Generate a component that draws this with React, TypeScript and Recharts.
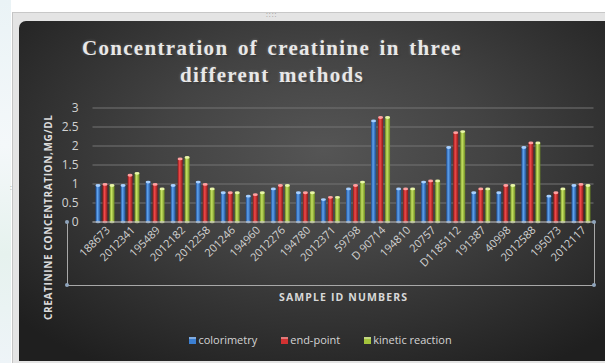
import React from 'react';
import { BarChart, Bar, XAxis, YAxis, CartesianGrid, Legend } from 'recharts';

// sample ids on the x axis
const sampleIds = [
  '188673', '2012341', '195489', '2012182', '2012258', '201246', '194960', '2012276', '194780', '2012371',
  '59798', 'D 90714', '194810', '20757', 'D1185112', '191387', '40998', '2012588', '195073', '2012117',
];

// creatinine concentration (mg/dl) for each method
const colorimetry = [0.96, 0.96, 1.05, 0.96, 1.05, 0.77, 0.68, 0.87, 0.77, 0.59, 0.87, 2.66, 0.87, 1.05, 1.96, 0.77, 0.77, 1.96, 0.68, 0.96];
const endPoint = [0.99, 1.23, 0.99, 1.66, 0.99, 0.77, 0.72, 0.96, 0.77, 0.65, 0.96, 2.75, 0.87, 1.08, 2.35, 0.87, 0.96, 2.08, 0.77, 0.99];
const kineticReaction = [0.96, 1.28, 0.87, 1.7, 0.87, 0.77, 0.77, 0.96, 0.77, 0.65, 1.05, 2.75, 0.87, 1.08, 2.38, 0.87, 0.96, 2.08, 0.87, 0.96];

const yTicks = [0, 0.5, 1, 1.5, 2, 2.5, 3];

const seriesStyles = [
  { key: 'colorimetry', dark: '#1d4a8e', light: '#5ea2ee', top: '#a8d0ff', icon: '#3b7fd2' },
  { key: 'end-point', dark: '#8c1818', light: '#f04a4a', top: '#ffa0a0', icon: '#d23232' },
  { key: 'kinetic reaction', dark: '#6c8a20', light: '#c6e262', top: '#e8f6a8', icon: '#a4c43c' },
];

const sans = '"Open Sans", "Liberation Sans", sans-serif';

const data = sampleIds.map((id, i) => ({
  name: id,
  colorimetry: colorimetry[i],
  'end-point': endPoint[i],
  'kinetic reaction': kineticReaction[i],
}));

const CylinderBar = (props: any) => {
  const { x, y, width, height, index, gradId, topColor } = props;
  if (!height || height <= 0) return null;
  return (
    <g key={index}>
      <rect x={x} y={y} width={width} height={height} fill={`url(#${gradId})`} />
      <ellipse cx={x + width / 2} cy={y} rx={width / 2} ry={1.4} fill={topColor} />
      <ellipse cx={x + width / 2} cy={y + height} rx={width / 2} ry={1.2} fill={topColor} opacity={0.8} />
    </g>
  );
};

const XTick = (props: any) => {
  const { x, y, payload } = props;
  return (
    <g transform={`translate(${x},${y})`}>
      <text x={0} y={0} dy={6} dx={2} textAnchor="end" transform="rotate(-45)" fill="#d2d2d2" fontSize={11} fontFamily={sans}>
        {payload.value}
      </text>
    </g>
  );
};

const LegendContent = (props: any) => {
  const { payload } = props;
  return (
    <div style={{ display: 'flex', justifyContent: 'center', height: 20, lineHeight: '20px', fontFamily: sans, fontSize: 11, color: '#d4d4d4' }}>
      {(payload || []).map((entry: any, i: number) => (
        <span key={i} style={{ display: 'inline-flex', alignItems: 'center', marginRight: i < 2 ? 24 : 0 }}>
          <span style={{ display: 'inline-block', width: 7, height: 7, marginRight: 2, background: seriesStyles[i].icon, boxShadow: 'inset 0 2px 0 rgba(255,255,255,0.35)' }} />
          {entry.value}
        </span>
      ))}
    </div>
  );
};

export default function App() {
  return (
    <div style={{ position: 'absolute', left: 0, top: 0, width: 605, height: 363, background: '#ffffff', overflow: 'hidden' }}>
      <div style={{ position: 'absolute', left: 0, top: 0, width: 11, height: 363, background: 'linear-gradient(#eaf3f6, #f4f8fa 40%, #e6f2ee 70%, #eef4f8)' }} />
      <div style={{ position: 'absolute', left: 12, top: 12, width: 593, height: 351, background: '#e4e4e4', borderLeft: '1px solid #c4c4c4', borderTop: '1px solid #c8c8c8' }}>
        <div style={{ position: 'absolute', left: 253, top: -3, fontSize: 7, color: '#999', fontFamily: sans, letterSpacing: 1 }}>::::</div>
        <div style={{ position: 'absolute', left: -3, top: 170, fontSize: 7, color: '#999', fontFamily: sans }}>:</div>
      </div>
      <div
        style={{
          position: 'absolute',
          left: 19,
          top: 21,
          width: 586,
          height: 340,
          borderTopLeftRadius: 7,
          overflow: 'hidden',
          background: 'radial-gradient(ellipse 70% 75% at 52% 38%, #555555 0%, #434343 40%, #2e2e2e 75%, #1f1f1f 100%)',
        }}
      >
        <div
          style={{
            position: 'absolute',
            left: 0,
            top: 14,
            width: 506,
            textAlign: 'center',
            fontFamily: '"Liberation Serif", "Times New Roman", serif',
            fontWeight: 'bold',
            fontSize: 21,
            lineHeight: '27px',
            letterSpacing: 1.3,
            wordSpacing: 3,
            color: '#e8e8e8',
            textShadow: '0 0 3px rgba(255,255,255,0.35), 1px 1px 2px rgba(0,0,0,0.6)',
          }}
        >
          Concentration of creatinine in three
          <br />
          different methods
        </div>
        <BarChart
          width={586}
          height={340}
          data={data}
          margin={{ top: 87, right: 11.5, bottom: 11, left: 28.5 }}
          barSize={5}
          barGap={2}
        >
          <defs>
            {seriesStyles.map((s, i) => (
              <linearGradient key={i} id={`cyl${i}`} x1="0" y1="0" x2="1" y2="0">
                <stop offset="0%" stopColor={s.dark} />
                <stop offset="40%" stopColor={s.light} />
                <stop offset="100%" stopColor={s.dark} />
              </linearGradient>
            ))}
          </defs>
          <CartesianGrid vertical={false} stroke="#747474" strokeWidth={1} />
          <XAxis
            dataKey="name"
            interval={0}
            height={108}
            tick={<XTick />}
            tickLine={false}
            tickSize={0}
            tickMargin={6}
            stroke="#a8a8a8"
            label={{
              content: (p: any) => {
                const vb = p.viewBox || { x: 0, y: 0, width: 0 };
                return (
                  <text x={vb.x + vb.width / 2} y={vb.y + 79} textAnchor="middle" fill="#d8d8d8" fontFamily={sans} fontWeight="bold" fontSize={10.5} textLength={128}>
                    SAMPLE ID NUMBERS
                  </text>
                );
              },
            }}
          />
          <YAxis
            width={45}
            domain={[0, 3]}
            ticks={yTicks}
            interval={0}
            axisLine={false}
            tickLine={false}
            tickSize={6}
            tickMargin={8}
            tick={{ fill: '#d2d2d2', fontSize: 12, fontFamily: sans }}
            label={{
              content: () => (
                <text
                  x={29}
                  y={196.5}
                  transform="rotate(-90 29 196.5)"
                  textAnchor="middle"
                  dominantBaseline="central"
                  fill="#dcdcdc"
                  fontFamily={sans}
                  fontWeight="bold"
                  fontSize={10}
                  textLength={205}
                >
                  CREATININE CONCENTRATION,MG/DL
                </text>
              ),
            }}
          />
          <Legend verticalAlign="bottom" align="center" content={<LegendContent />} />
          {seriesStyles.map((s, i) => (
            <Bar
              key={s.key}
              dataKey={s.key}
              fill={s.icon}
              isAnimationActive={false}
              shape={(p: any) => <CylinderBar {...p} gradId={`cyl${i}`} topColor={s.top} />}
            />
          ))}
        </BarChart>
        <div
          style={{
            position: 'absolute',
            left: 48,
            top: 201,
            width: 526,
            height: 63,
            borderLeft: '1px solid #a8a8a8',
            borderRight: '1px solid #a8a8a8',
            borderBottom: '1px solid #a8a8a8',
            pointerEvents: 'none',
          }}
        />
        {[
          [48, 201],
          [48, 264],
          [575, 201],
          [575, 264],
        ].map(([l, t], i) => (
          <div key={i} style={{ position: 'absolute', left: l - 2, top: t - 2, width: 4, height: 4, borderRadius: 2, background: '#8fa4bc' }} />
        ))}
      </div>
    </div>
  );
}
